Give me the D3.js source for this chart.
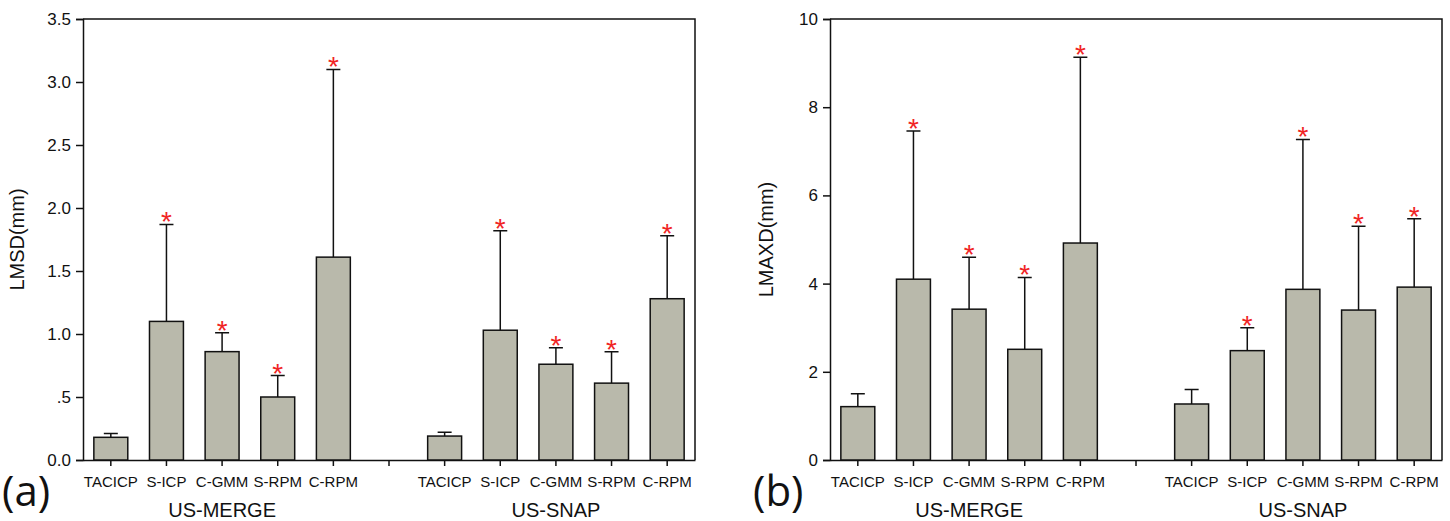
<!DOCTYPE html>
<html lang="en">
<head>
<meta charset="UTF-8">
<title>LMSD / LMAXD by method</title>
<script src="https://d3js.org/d3.v7.min.js"></script>
<style>
body { margin: 0; background: white; }
svg text { font-family: 'Liberation Sans', Arial, sans-serif; fill: #111; }
.axis path, .axis line { stroke: #111; stroke-width: 1.5px; }
.bar { fill: #b9b9ab; stroke: #111; stroke-width: 1.5px; }
.err { stroke: #111; stroke-width: 1.5px; fill: none; }
.star { fill: #f02424; font-size: 28px; }
.panel-tag { font-family: 'Open Sans', 'DejaVu Sans', sans-serif; font-size: 42px; }
</style>
</head>
<body>
<div id="chart"></div>
<script>

// --------------------------------------
// Data
// --------------------------------------

var methods = ["TACICP", "S-ICP", "C-GMM", "S-RPM", "C-RPM"];
var groups = ["US-MERGE", "US-SNAP"];

// LMSD (mm) - mean and mean+sd, order = methods
var lmsdMerge = [0.18, 1.10, 0.86, 0.50, 1.61];
var lmsdMergeTop = [0.21, 1.87, 1.01, 0.67, 3.10];
var lmsdSnap = [0.19, 1.03, 0.76, 0.61, 1.28];
var lmsdSnapTop = [0.22, 1.82, 0.89, 0.86, 1.78];

// LMAXD (mm)
var lmaxdMerge = [1.21, 4.10, 3.42, 2.51, 4.92];
var lmaxdMergeTop = [1.50, 7.46, 4.60, 4.14, 9.13];
var lmaxdSnap = [1.27, 2.48, 3.87, 3.40, 3.92];
var lmaxdSnapTop = [1.60, 3.00, 7.27, 5.30, 5.47];

// which bars get a significance star (same for both groups)
var starred = [false, true, true, true, true];

var lmsdTicks = [0, 0.5, 1.0, 1.5, 2.0, 2.5, 3.0, 3.5];
var lmaxdTicks = [0, 2, 4, 6, 8, 10];

// --------------------------------------
// Size
// --------------------------------------

var totalWidth = 1450;
var totalHeight = 521;
var plotTop = 19, plotBottom = 460, plotWidth = 612;

var svg = d3.select("#chart")
  .append("svg")
  .attr("width", totalWidth)
  .attr("height", totalHeight);

// build the 11 slots: 5 methods, one empty gap, 5 methods
function buildRows(mergeVals, mergeTop, snapVals, snapTop) {
  var rows = [];
  methods.forEach(function(m, i) {
    rows.push({key: "m" + i, label: m, value: mergeVals[i], top: mergeTop[i], star: starred[i]});
  });
  rows.push({key: "gap", label: "", value: null});
  methods.forEach(function(m, i) {
    rows.push({key: "s" + i, label: m, value: snapVals[i], top: snapTop[i], star: starred[i]});
  });
  return rows;
}

function drawPanel(opts) {
  var g = svg.append("g").attr("transform", `translate(${opts.left},0)`);
  var rows = opts.rows;

  var x = d3.scaleBand()
    .domain(rows.map(d => d.key))
    .range([0, plotWidth])
    .paddingInner(0.39)
    .paddingOuter(0.195);

  var y = d3.scaleLinear()
    .domain([0, opts.yMax])
    .range([plotBottom, plotTop]);

  // frame (top + right)
  g.append("path")
    .attr("d", `M0,${plotTop}H${plotWidth}V${plotBottom}`)
    .attr("fill", "none")
    .attr("stroke", "#111")
    .attr("stroke-width", 1.5);

  // y axis
  var yAxis = g.append("g")
    .attr("class", "axis")
    .call(d3.axisLeft(y)
      .tickValues(opts.ticks)
      .tickSize(7)
      .tickPadding(5)
      .tickFormat(opts.format));
  yAxis.selectAll("text").style("font-size", "17px");

  // x axis: one tick per slot, including the gap
  var xAxis = g.append("g")
    .attr("class", "axis")
    .attr("transform", `translate(0,${plotBottom})`)
    .call(d3.axisBottom(x)
      .tickSize(6)
      .tickSizeOuter(0)
      .tickPadding(10)
      .tickFormat((k) => rows.find(r => r.key === k).label));
  xAxis.selectAll("text").style("font-size", "15px");

  // bars
  var data = rows.filter(d => d.value != null);
  var bw = x.bandwidth();

  g.selectAll(".err")
    .data(data)
    .join("path")
    .attr("class", "err")
    .attr("d", d => {
      var cx = x(d.key) + bw / 2;
      return `M${cx},${y(d.value)}V${y(d.top)}M${cx - 7},${y(d.top)}H${cx + 7}`;
    });

  g.selectAll(".bar")
    .data(data)
    .join("rect")
    .attr("class", "bar")
    .attr("x", d => x(d.key))
    .attr("width", bw)
    .attr("y", d => y(d.value))
    .attr("height", d => y(0) - y(d.value));

  g.selectAll(".star")
    .data(data.filter(d => d.star))
    .join("text")
    .attr("class", "star")
    .attr("text-anchor", "middle")
    .attr("x", d => x(d.key) + bw / 2)
    .attr("y", d => y(d.top) + 7)
    .text("*");

  // group labels under the middle method of each group
  g.selectAll(".group")
    .data(groups)
    .join("text")
    .attr("class", "group")
    .attr("text-anchor", "middle")
    .attr("x", (d, i) => x(i === 0 ? "m2" : "s2") + bw / 2)
    .attr("y", 517)
    .style("font-size", "20px")
    .text(d => d);

  // y title
  g.append("text")
    .attr("transform", `translate(${opts.titleX},${(plotTop + plotBottom) / 2}) rotate(-90)`)
    .attr("text-anchor", "middle")
    .style("font-size", "20px")
    .text(opts.title);

  // panel letter
  svg.append("text")
    .attr("class", "panel-tag")
    .attr("x", opts.tagX)
    .attr("y", 506)
    .text(opts.tag);
}

drawPanel({
  left: 83,
  rows: buildRows(lmsdMerge, lmsdMergeTop, lmsdSnap, lmsdSnapTop),
  yMax: 3.5,
  ticks: lmsdTicks,
  format: d => d === 0.5 ? ".5" : d3.format(".1f")(d),
  title: "LMSD(mm)",
  titleX: -59,
  tag: "(a)",
  tagX: 2
});

drawPanel({
  left: 830,
  rows: buildRows(lmaxdMerge, lmaxdMergeTop, lmaxdSnap, lmaxdSnapTop),
  yMax: 10,
  ticks: lmaxdTicks,
  format: d3.format("d"),
  title: "LMAXD(mm)",
  titleX: -57,
  tag: "(b)",
  tagX: 753
});

</script>
</body>
</html>
